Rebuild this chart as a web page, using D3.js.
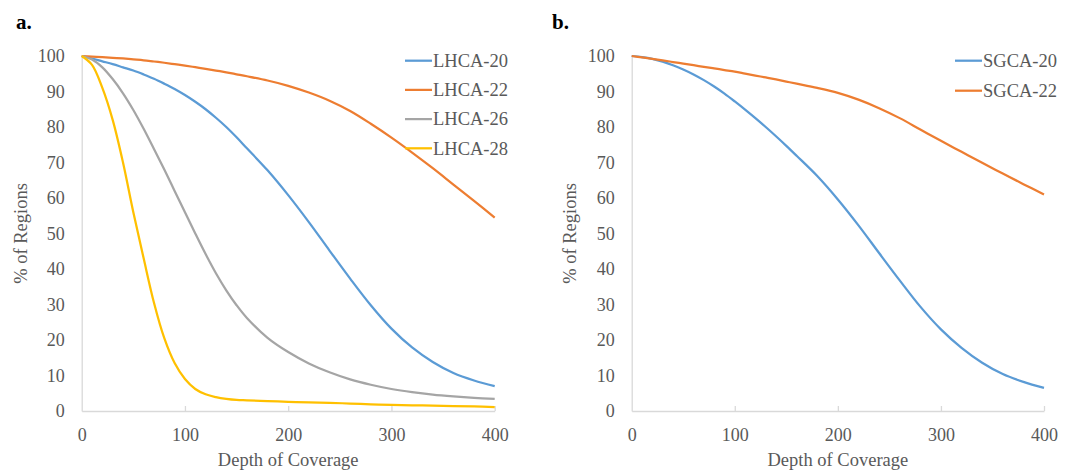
<!DOCTYPE html>
<html>
<head>
<meta charset="utf-8">
<script src="https://cdn.jsdelivr.net/npm/d3@7"></script>
<style>
  html, body { margin: 0; padding: 0; background: #ffffff; }
  svg { display: block; }
  text { font-family: "Liberation Serif", "Times New Roman", serif; }
</style>
</head>
<body>
<svg id="chart" width="1075" height="473"></svg>
<script>
// ---------------- data ----------------
const depth = [0,10,20,30,40,50,60,70,80,90,100,110,120,130,140,150,160,180,200,220,240,260,280,300,320,340,360,380,400];

const lhca20 = [100,99.3,98.5,97.7,96.8,95.9,94.8,93.6,92.2,90.7,89,87.1,85,82.6,80,77.1,74,67.8,60.8,53.2,45.2,37.3,29.8,23.2,17.9,13.8,10.7,8.6,7];
const lhca22 = [100,99.85,99.7,99.5,99.3,99.05,98.8,98.45,98.1,97.7,97.3,96.85,96.4,95.9,95.4,94.85,94.3,93.1,91.6,89.7,87.4,84.5,80.9,77,72.8,68.4,63.8,59.2,54.5];
const lhca26 = [100,99,96.8,93.5,89.5,84.8,79.5,73.8,68,62,56,50,44.2,38.8,34,29.8,26.2,20.6,16.6,13.4,10.9,8.9,7.4,6.2,5.3,4.6,4.1,3.7,3.4];
const lhca28 = [100,97.5,91,82,70,56,43,30.5,20.5,13.5,9,6.2,4.7,3.9,3.4,3.1,3,2.8,2.6,2.4,2.3,2.1,1.9,1.7,1.6,1.5,1.4,1.3,1.1];

const sgca20 = [100,99.7,99.2,98.4,97.4,96.2,94.8,93.2,91.4,89.4,87.2,84.9,82.5,80,77.4,74.7,71.9,66.2,59.6,52.3,44.5,36.8,29.4,23,17.8,13.6,10.4,8.2,6.5];
const sgca22 = [100,99.6,99.2,98.75,98.3,97.85,97.4,96.95,96.5,96.05,95.6,95.05,94.5,93.95,93.4,92.8,92.2,91,89.6,87.7,85.3,82.5,79.3,76.1,73,69.9,66.9,63.9,61];

const xTicks = [0,100,200,300,400];
const yTicks = [0,10,20,30,40,50,60,70,80,90,100];

const panelLetters = ["a.", "b."];
const namesA = ["LHCA-20","LHCA-22","LHCA-26","LHCA-28"];
const namesB = ["SGCA-20","SGCA-22"];
const colorsA = ["#5B9BD5","#ED7D31","#A5A5A5","#FFC000"];
const colorsB = ["#5B9BD5","#ED7D31"];
const xTitle = "Depth of Coverage";
const yTitle = "% of Regions";

// ---------------- drawing ----------------
const svg = d3.select("#chart");
const textColor = "#595959";
const axisColor = "#D9D9D9";

function drawPanel(cfg) {
  const x = d3.scaleLinear().domain([0, 400]).range([cfg.left, cfg.right]);
  const y = d3.scaleLinear().domain([0, 100]).range([cfg.bottom, cfg.top]);
  const g = svg.append("g");

  // panel letter
  g.append("text")
    .attr("x", cfg.letterX).attr("y", 29)
    .attr("font-size", 21).attr("font-weight", "bold").attr("fill", "#000")
    .text(cfg.letter);

  // y axis (labels only + line)
  const yAxis = d3.axisLeft(y).tickValues(yTicks).tickSize(0).tickPadding(17);
  const ya = g.append("g").attr("transform", `translate(${cfg.left},0)`).call(yAxis);
  ya.select(".domain").attr("stroke", axisColor).attr("stroke-width", 1.3);
  ya.selectAll("text").attr("font-size", 18).attr("fill", textColor)
    .attr("font-family", "Liberation Serif, serif");

  // x axis with inward ticks
  const xAxis = d3.axisBottom(x).tickValues(xTicks).tickSizeInner(-5).tickSizeOuter(0).tickPadding(17);
  const xa = g.append("g").attr("transform", `translate(0,${cfg.bottom})`).call(xAxis);
  xa.select(".domain").attr("stroke", axisColor).attr("stroke-width", 1.3);
  xa.selectAll(".tick line").attr("stroke", axisColor).attr("stroke-width", 1.3);
  xa.selectAll(".tick").filter(d => d === 0).select("line").remove();
  xa.selectAll("text").attr("font-size", 18).attr("fill", textColor)
    .attr("font-family", "Liberation Serif, serif");

  // axis titles
  g.append("text")
    .attr("x", (cfg.left + cfg.right) / 2).attr("y", 466)
    .attr("text-anchor", "middle").attr("font-size", 18.5).attr("fill", textColor)
    .text(xTitle);
  g.append("text")
    .attr("transform", `translate(${cfg.yTitleX},${(cfg.top + cfg.bottom) / 2}) rotate(-90)`)
    .attr("text-anchor", "middle").attr("font-size", 18.5).attr("fill", textColor)
    .attr("dy", "0.33em")
    .text(yTitle);

  // lines
  const line = d3.line()
    .x((d, i) => x(depth[i]))
    .y(d => y(d))
    .curve(d3.curveCatmullRom.alpha(0.5));
  cfg.series.forEach((s, i) => {
    g.append("path")
      .datum(s)
      .attr("fill", "none")
      .attr("stroke", cfg.colors[i])
      .attr("stroke-width", 2.25)
      .attr("stroke-linejoin", "round")
      .attr("d", line);
  });

  // legend
  const lg = g.append("g");
  cfg.names.forEach((n, i) => {
    const ly = 60.7 + i * cfg.legendStep;
    lg.append("line")
      .attr("x1", cfg.legendX).attr("x2", cfg.legendX + 27)
      .attr("y1", ly).attr("y2", ly)
      .attr("stroke", cfg.colors[i]).attr("stroke-width", 2.25);
    lg.append("text")
      .attr("x", cfg.legendX + 28).attr("y", ly).attr("dy", "0.34em")
      .attr("font-size", 18.5).attr("fill", textColor)
      .text(n);
  });
}

drawPanel({
  left: 81.7, right: 494.7, top: 56, bottom: 411,
  letter: panelLetters[0], letterX: 16, yTitleX: 21,
  series: [lhca20, lhca22, lhca26, lhca28], names: namesA, colors: colorsA,
  legendX: 405, legendStep: 29.2
});
drawPanel({
  left: 631.7, right: 1044, top: 56, bottom: 411,
  letter: panelLetters[1], letterX: 552, yTitleX: 570,
  series: [sgca20, sgca22], names: namesB, colors: colorsB,
  legendX: 955, legendStep: 30
});
</script>
</body>
</html>
